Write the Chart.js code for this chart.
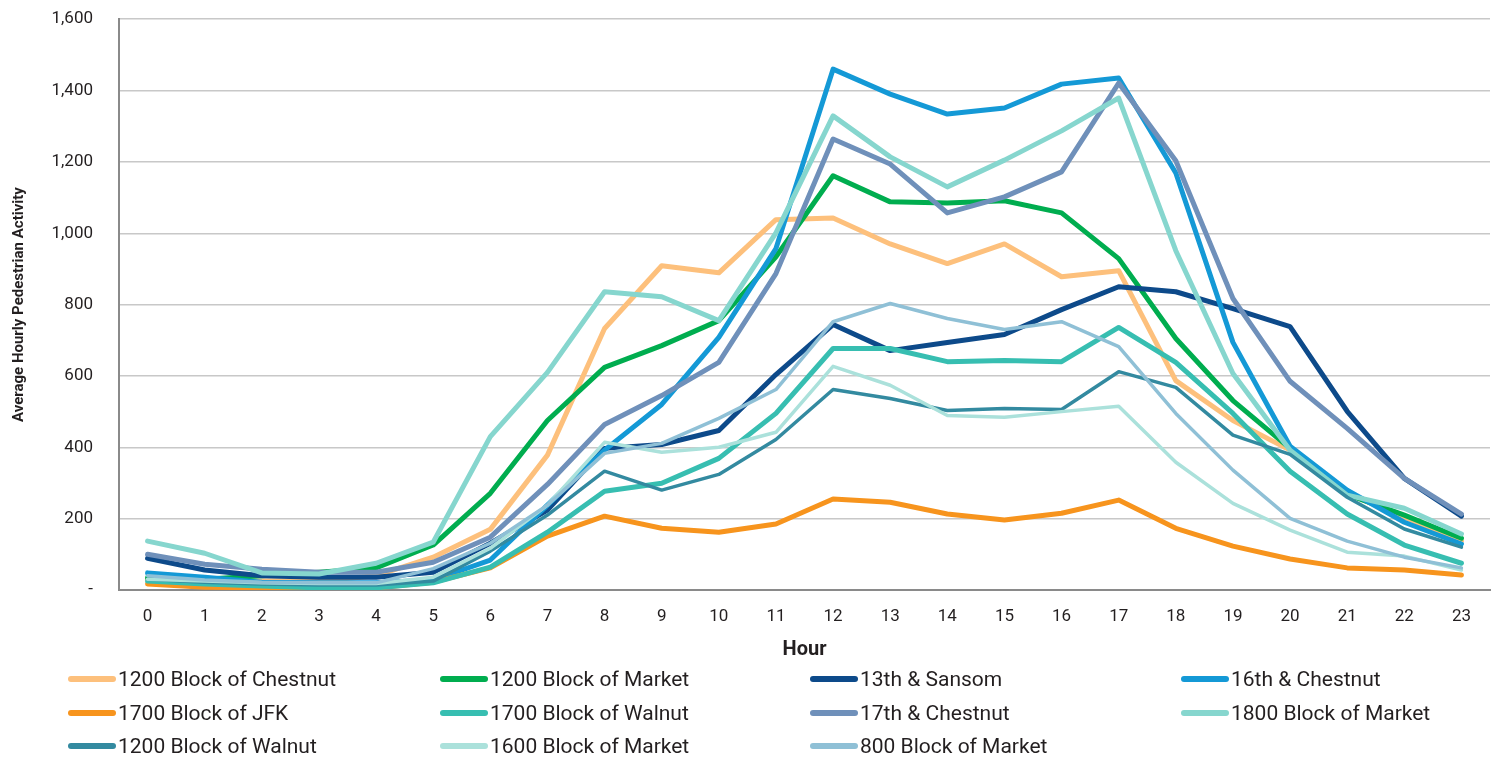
<!DOCTYPE html>
<html>
<head>
<meta charset="utf-8">
<script src="https://cdn.jsdelivr.net/npm/chart.js@4"></script>
<style>
  html, body { margin:0; padding:0; background:#fff; overflow:hidden; }
  #wrap { position:relative; width:1501px; height:760px; overflow:hidden; }
  #c { position:absolute; left:0; top:-17px; }
  #legend { position:absolute; left:0; top:0; width:1501px; height:760px; pointer-events:none; }
  .item { position:absolute; display:flex; align-items:center; font-family:Roboto, sans-serif; font-size:21px; color:#231f20; white-space:nowrap; }
  .sw { width:48px; height:6px; border-radius:3px; margin-right:2px; }
</style>
</head>
<body>
<div id="wrap">
  <canvas id="c" width="1501" height="679"></canvas>
  <div id="legend"></div>
</div>
<script>
const hours = ['0','1','2','3','4','5','6','7','8','9','10','11','12','13','14','15','16','17','18','19','20','21','22','23'];
const yTicks = [0,200,400,600,800,1000,1200,1400,1600];

const chestnut1200 = [30,25,25,25,40,92,170,378,733,909,889,1038,1043,970,915,970,878,895,587,475,392,271,204,137];
const market1200   = [35,30,40,50,62,126,271,475,624,685,755,934,1161,1088,1085,1091,1057,929,705,531,397,268,210,145];
const sansom13     = [89,56,40,36,36,50,131,224,397,408,447,604,744,671,694,716,786,850,836,789,738,501,313,207];
const chestnut16   = [48,36,22,20,20,28,84,238,392,520,708,957,1460,1390,1334,1351,1418,1435,1169,694,403,280,190,129];
const jfk1700      = [17,8,6,6,6,22,62,151,207,173,162,185,255,246,213,196,215,252,173,123,87,62,56,42];
const walnut1700   = [25,17,11,6,6,20,64,162,277,299,369,495,677,677,640,643,640,736,638,495,333,213,126,75];
const chestnut17   = [100,72,58,50,50,78,148,296,464,545,638,887,1264,1194,1057,1102,1172,1421,1203,817,585,453,313,213];
const market1800   = [137,103,48,45,75,134,430,610,836,822,755,1001,1329,1214,1130,1205,1287,1379,951,607,392,266,229,157];
const walnut1200   = [30,22,17,14,14,25,109,210,333,280,324,422,562,537,503,509,506,612,568,434,380,260,171,120];
const market1600   = [30,25,20,18,18,36,117,238,414,386,400,442,627,574,489,484,500,515,358,243,168,106,95,56];
const market800    = [40,28,22,20,20,60,131,238,383,411,481,562,752,803,761,730,752,682,495,336,201,137,92,62];

const seriesNames = ['1200 Block of Chestnut','1200 Block of Market','13th & Sansom','16th & Chestnut',
  '1700 Block of JFK','1700 Block of Walnut','17th & Chestnut','1800 Block of Market',
  '1200 Block of Walnut','1600 Block of Market','800 Block of Market'];
const seriesData = [chestnut1200, market1200, sansom13, chestnut16, jfk1700, walnut1700, chestnut17, market1800, walnut1200, market1600, market800];
const seriesColors = ['#FDC07C','#00AD4F','#0D4A8A','#1499D6','#F7941D','#37BEB1','#6F90BA','#86D6CE','#338AA0','#ABE1DB','#8FC0D6'];
const seriesWidths = [5,5,5,5,5,5,5,5,3.5,3.5,3.5];

const datasets = seriesNames.map((n,i)=>({
  label:n, data:seriesData[i], borderColor:seriesColors[i], backgroundColor:seriesColors[i],
  borderWidth:seriesWidths[i], pointRadius:0, tension:0, fill:false,
  borderCapStyle:'round', borderJoinStyle:'round', order: 20 - i
}));

new Chart(document.getElementById('c'), {
  type:'line',
  data:{ labels:hours, datasets },
  options:{
    responsive:false, animation:false,
    layout:{ padding:{ top:1, right:11, left:0, bottom:0 } },
    plugins:{ legend:{ display:false }, tooltip:{ enabled:false } },
    scales:{
      x:{
        offset:true,
        afterFit:(s)=>{ s.height = 72; },
        grid:{ display:false, drawTicks:false },
        border:{ display:true, color:'#8a8a8a', width:2 },
        ticks:{ padding:17, color:'#231f20', font:{ family:'Roboto', size:17 } },
        title:{ display:true, text:'Hour', color:'#231f20', font:{ family:'Roboto', size:20, weight:'bold' }, padding:{ top:4, bottom:0 } }
      },
      y:{
        min:0, max:1600,
        afterBuildTicks:(s)=>{ s.ticks = yTicks.map(v=>({value:v})); },
        afterFit:(s)=>{ s.width = 119; },
        grid:{ color:'#c8c8c8', lineWidth:1.5, drawTicks:false },
        border:{ display:true, color:'#8a8a8a', width:2 },
        ticks:{ padding:26, color:'#231f20', font:{ family:'Roboto', size:17 },
          callback:(v)=> v===0 ? '-' : v.toLocaleString('en-US') },
        title:{ display:true, text:'Average Hourly Pedestrian Activity', color:'#231f20', font:{ family:'Roboto', size:15, weight:'bold' }, padding:{ top:10, bottom:0 } }
      }
    }
  }
});

const leg = document.getElementById('legend');
const colX = [68, 440, 810, 1181];
const rowY = [679, 713, 746];
seriesNames.forEach((n,i)=>{
  const d = document.createElement('div');
  d.className='item';
  d.style.left = colX[i%4]+'px';
  d.style.top = (rowY[Math.floor(i/4)] - 13)+'px';
  d.style.height = '26px';
  d.innerHTML = '<span class="sw" style="background:'+seriesColors[i]+'"></span><span></span>';
  d.lastChild.textContent = n;
  leg.appendChild(d);
});
</script>
</body>
</html>
